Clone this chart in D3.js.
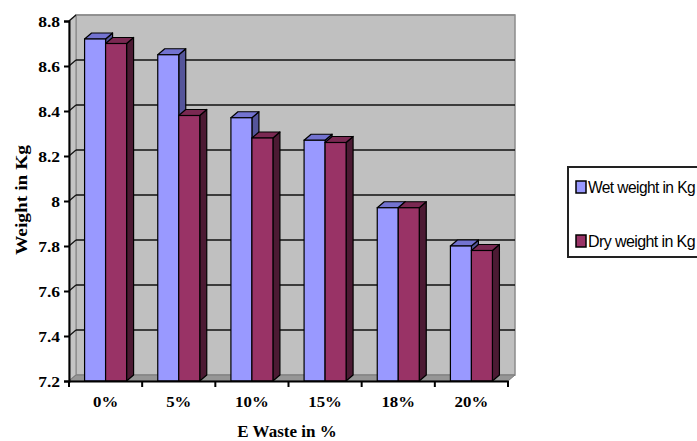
<!DOCTYPE html>
<html><head><meta charset="utf-8">
<script src="https://cdn.jsdelivr.net/npm/d3@7"></script>
<style>body{margin:0;background:#fff}svg{display:block}</style>
</head><body><svg id="c" width="697" height="441"></svg>
<script>
const categories = ["0%","5%","10%","15%","18%","20%"];
const seriesNames = ["Wet weight in Kg","Dry weight in Kg"];
const wetWeight = [8.72, 8.65, 8.37, 8.27, 7.97, 7.80];
const dryWeight = [8.70, 8.38, 8.28, 8.26, 7.97, 7.78];
const yTicks = [7.2,7.4,7.6,7.8,8,8.2,8.4,8.6,8.8];

const colors = [
  {front:"#9999FF", top:"#7373D0", side:"#55559A"},
  {front:"#993366", top:"#7A2952", side:"#4C1A33"}
];
const svg = d3.select("#c");
const left = 69, right = 508, bottom = 381, topY = 21;
const dx = 7, dy = -6;
const x = d3.scaleBand().domain(categories).range([left, right]);
const x1 = d3.scaleBand().domain([0,1]).range([0, 42]);
const y = d3.scaleLinear().domain([7.2, 8.8]).range([bottom, topY]);
const serif = "'Liberation Serif','Times New Roman',serif";

// back wall
svg.append("rect").attr("x", left+dx).attr("y", topY+dy).attr("width", right-left)
  .attr("height", bottom-topY).attr("fill","#C0C0C0").attr("stroke","#8c8c8c").attr("stroke-width",1.5);
// side wall
svg.append("polygon").attr("points", `${left},${y(8.8)} ${left+dx},${y(8.8)+dy} ${left+dx},${bottom+dy} ${left},${bottom}`)
  .attr("fill","#C4C4C4").attr("stroke","#8c8c8c").attr("stroke-width",1.2);
// floor
svg.append("polygon").attr("points", `${left},${bottom} ${left+dx},${bottom+dy} ${right+dx},${bottom+dy} ${right},${bottom}`)
  .attr("fill","#969696").attr("stroke","#7a7a7a").attr("stroke-width",1);

// gridlines
yTicks.slice(1).forEach(v => {
  svg.append("line").attr("x1", left+dx).attr("x2", right+dx).attr("y1", y(v)+dy).attr("y2", y(v)+dy)
    .attr("stroke", v===8.8 ? "#8c8c8c" : "#111").attr("stroke-width", v===8.8 ? 1.5 : 1.6);
  svg.append("line").attr("x1", left).attr("x2", left+dx).attr("y1", y(v)).attr("y2", y(v)+dy)
    .attr("stroke","#111").attr("stroke-width",1.2);
});

// bars
const data = [];
categories.forEach((c,i) => { data.push({c, s:0, v:wetWeight[i]}); data.push({c, s:1, v:dryWeight[i]}); });
const off = (x.bandwidth()-42)/2;
const g = svg.append("g");
data.forEach(d => {
  const x0 = x(d.c) + off + x1(d.s), w = x1.bandwidth(), yt = y(d.v), col = colors[d.s];
  g.append("polygon").attr("points", `${x0+w},${yt} ${x0+w+dx},${yt+dy} ${x0+w+dx},${bottom+dy} ${x0+w},${bottom}`)
    .attr("fill", col.side).attr("stroke","#000").attr("stroke-width",1.2).attr("stroke-linejoin","round");
  g.append("polygon").attr("points", `${x0},${yt} ${x0+dx},${yt+dy} ${x0+w+dx},${yt+dy} ${x0+w},${yt}`)
    .attr("fill", col.top).attr("stroke","#000").attr("stroke-width",1.2).attr("stroke-linejoin","round");
  g.append("rect").attr("x", x0).attr("y", yt).attr("width", w).attr("height", bottom-yt)
    .attr("fill", col.front).attr("stroke","#000").attr("stroke-width",1.2);
});

function widen(sel, k) {
  sel.each(function() {
    const L = this.getComputedTextLength();
    d3.select(this).attr("textLength", L*k).attr("lengthAdjust","spacingAndGlyphs");
  });
}

// y axis
const yAxis = svg.append("g").attr("transform", `translate(${left},0)`)
  .call(d3.axisLeft(y).tickValues(yTicks).tickSize(5).tickPadding(4).tickFormat(d3.format("")));
yAxis.select(".domain").attr("stroke","#000").attr("stroke-width",2);
yAxis.selectAll(".tick line").attr("stroke","#000").attr("stroke-width",2);
yAxis.selectAll("text").attr("font-family", serif).attr("font-weight","bold").attr("font-size",14).attr("fill","#000").attr("dy","0.36em");
widen(yAxis.selectAll("text"), 1.25);

// x axis
const xAxis = svg.append("g").attr("transform", `translate(0,${bottom})`)
  .call(d3.axisBottom(x).tickSize(0).tickPadding(16));
xAxis.select(".domain").attr("stroke","#000").attr("stroke-width",2);
xAxis.selectAll("text").attr("font-family", serif).attr("font-weight","bold").attr("font-size",14).attr("fill","#000");
widen(xAxis.selectAll("text"), 1.2);
const edges = categories.map(c => x(c)).concat([right]);
svg.append("g").selectAll("line").data(edges).join("line")
  .attr("x1", d=>d).attr("x2", d=>d).attr("y1", bottom).attr("y2", bottom+6)
  .attr("stroke","#000").attr("stroke-width",2);

// axis titles
svg.append("text").attr("x", 287).attr("y", 437).attr("text-anchor","middle")
  .attr("font-family", serif).attr("font-weight","bold").attr("font-size",17).text("E Waste in %");
svg.append("text").attr("transform","translate(27,200) rotate(-90)").attr("text-anchor","middle")
  .attr("font-family", serif).attr("font-weight","bold").attr("font-size",17)
  .attr("textLength",110).attr("lengthAdjust","spacingAndGlyphs").text("Weight in Kg");

// legend
const lg = svg.append("g");
lg.append("rect").attr("x",568).attr("y",167).attr("width",140).attr("height",90)
  .attr("fill","#fff").attr("stroke","#222").attr("stroke-width",2);
seriesNames.forEach((n,i) => {
  const yy = 181 + i*54;
  lg.append("rect").attr("x",576).attr("y",yy).attr("width",10).attr("height",12)
    .attr("fill", colors[i].front).attr("stroke","#000").attr("stroke-width",1.5);
  lg.append("text").attr("x",588).attr("y",yy+12).attr("font-family","'Liberation Sans',Arial,sans-serif")
    .attr("font-size",16).attr("letter-spacing",-0.6).attr("textLength",107).attr("lengthAdjust","spacingAndGlyphs").text(n);
});
</script></body></html>
